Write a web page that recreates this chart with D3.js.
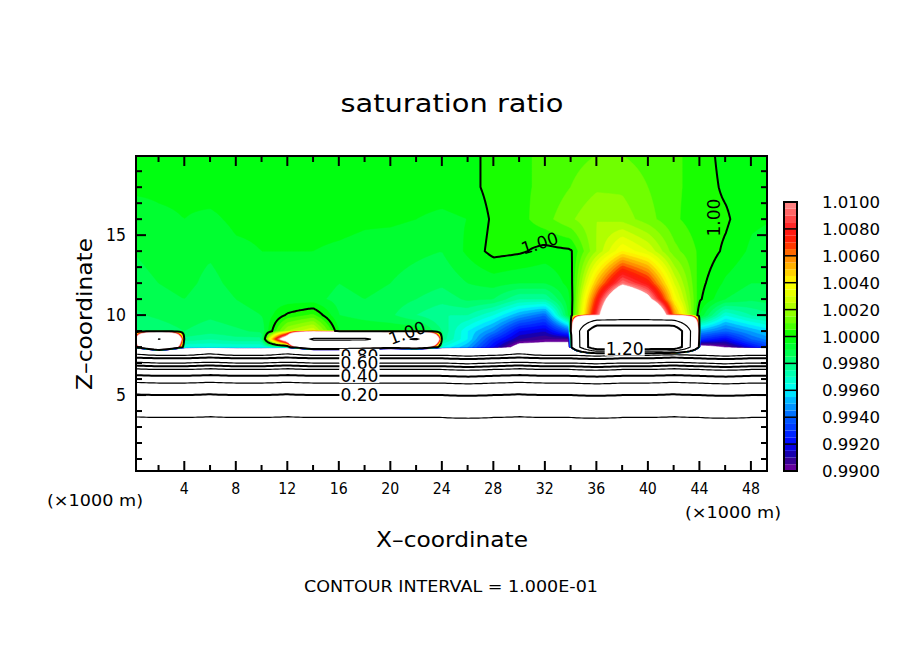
<!DOCTYPE html>
<html><head><meta charset="utf-8">
<script src="https://cdn.jsdelivr.net/npm/d3@7"></script>
<style>body{margin:0;background:#fff}text{font-family:"DejaVu Sans",sans-serif}</style>
</head><body><svg id="c" width="904" height="654"></svg>
<script>
// ---- DATA ----
const xCols = [0,2,4,6,8,10,12,14,16,18,20,22,24,26,28,30,32,34,36,38,40,42,44,46,48,50];
// upper field rows (z in km), values = (ratio-1)*1e4
const upperZ = [20,18,16,14,12,11,10,9,8.5,8];
const upperDev = [
 [-3,-3,-3,-3,-3,-3,-3,-3,-3,-3,-3,-3,-3,-2,2,4,6,8,10,10,8,6,3,-2,-3,-3],
 [-4,-4,-4,-3,-3,-3,-3,-3,-3,-3,-3,-3,-3,-2,2,4,6,10,14,14,10,6,3,-1,-3,-3],
 [-8,-6,-5,-6,-4,-4,-3,-3,-3,-4,-4,-5,-6,-5,1,3,8,14,20,18,12,6,2,1,-4,-5],
 [-10,-8,-7,-9,-6,-5,-5,-5,-6,-7,-8,-9,-10,-4,2,1,-2,-1,20,40,30,12,4,-1,-6,-8],
 [-12,-10,-8,-12,-8,-6,-6,-6,-10,-8,-10,-12,-14,-10,-8,-10,-10,-3,50,95,75,30,2,-6,-10,-10],
 [-14,-12,-10,-14,-10,-8,-8,-8,-12,-10,-12,-15,-18,-14,-15,-25,-25,-5,70,150,110,40,1,-10,-14,-12],
 [-16,-14,-12,-14,-12,-10,1,6,-10,-12,-14,-20,-25,-25,-35,-50,-60,-5,85,200,200,60,-5,-35,-25,-20],
 [-20,-18,-15,-18,-16,-14,20,30,-5,-6,-6,-5,-20,-40,-55,-80,-85,-60,3000,3000,3000,3000,-50,-60,-50,-40],
 [-22,1050,-22,-25,-22,-22,150,1100,1100,1100,700,1100,-22,-40,-70,-90,-95,-95,3000,3000,3000,3000,-70,-80,-60,-50],
 [-35,500,-35,-35,-35,-35,-30,300,300,200,100,200,-35,-50,-80,-110,-110,-110,3000,3000,3000,3000,-110,-100,-80,-60]
];
// lower layered profile (z km -> ratio)
const lowZ = [7.5,7.3,7.0,6.8,6.6,6.2,5.75,5.0,3.6,2.0,0.0];
const lowVal = [0.91,0.8,0.7,0.6,0.5,0.4,0.3,0.2,0.1,0.06,0.03];
const lowShift = [0.05,0,0,0.05,0,0,0.05,0,0,0,0,0,0,-0.05,0,0.05,0,0,-0.05,0,0,0.05,0,-0.05,0,0];
const lineLevels = [0.1,0.2,0.3,0.4,0.5,0.6,0.7,0.8,0.9,1.0,1.1,1.2];
const cbTicks = ["0.9900","0.9920","0.9940","0.9960","0.9980","1.0000","1.0020","1.0040","1.0060","1.0080","1.0100"];
const labels = [
 {t:"1.00",x:31.6,z:14.5,r:-18},{t:"1.00",x:45.1,z:16.1,r:-90},{t:"1.20",x:38.2,z:7.9,r:0},
 {t:"1.00",x:21.3,z:8.9,r:-20},{t:"0.80",x:17.6,z:7.45,r:0},{t:"0.60",x:17.6,z:7.0,r:0},
 {t:"0.40",x:17.6,z:6.2,r:0},{t:"0.20",x:17.6,z:5.0,r:0}
];
// ---- LAYOUT ----
const svg=d3.select("#c");
const L=136,R=767,T=156,B=471;
const xs=d3.scaleLinear([0.25,49.25],[L,R]);
const zs=d3.scaleLinear([0.25,19.95],[B,T]);
const stops=[[0.990,"#7a00a0"],[0.991,"#200090"],[0.992,"#0000ff"],[0.994,"#0060ff"],[0.9955,"#00c8ff"],[0.996,"#00ffff"],[0.997,"#00ffc0"],[0.998,"#00ff80"],[0.999,"#00ff40"],[1.000,"#00ff00"],[1.001,"#60ff00"],[1.002,"#a0ff00"],[1.003,"#e0ff00"],[1.004,"#ffff00"],[1.005,"#ffc000"],[1.006,"#ff8000"],[1.007,"#ff2000"],[1.008,"#ff1818"],[1.009,"#ff5858"],[1.010,"#ff9090"]];
const col=d3.scaleLinear(stops.map(s=>s[0]),stops.map(s=>s[1])).interpolate(d3.interpolateRgb).clamp(true);
function interp1(arr,vals,v){
  if(v<=arr[0])return vals[0]; if(v>=arr[arr.length-1])return vals[vals.length-1];
  let i=d3.bisectRight(arr,v)-1; const t=(v-arr[i])/(arr[i+1]-arr[i]); return vals[i]*(1-t)+vals[i+1]*t;}
const lowAscZ=lowZ.slice().reverse(), lowAscV=lowVal.slice().reverse();
const upAscZ=upperZ.slice().reverse(), upAscRows=upperDev.slice().reverse();
function colVal(c,z){
  if(z<=7.5)return interp1(lowAscZ,lowAscV,z-lowShift[c]);
  const vv=upAscRows.map(r=>1+r[c]/1e4);
  if(z<8){const t=(z-7.5)/0.5; return interp1(lowAscZ,lowAscV,7.5-lowShift[c])*(1-t)+vv[0]*t;}
  return interp1(upAscZ,vv,z);
}
function sample(x,z){
  const ci=Math.min(xCols.length-2,Math.max(0,Math.floor(x/2)));
  const tx=Math.max(0,Math.min(1,(x-xCols[ci])/2));
  return colVal(ci,z)*(1-tx)+colVal(ci+1,z)*tx;
}
const dx=0.2,dz=0.05,x0=0.25,z1=19.95;
const nx=Math.round((49.25-x0)/dx)+1, nz=Math.round((z1-0.25)/dz)+1;
const grid=new Float64Array(nx*nz);
for(let j=0;j<nz;j++)for(let i=0;i<nx;i++)grid[j*nx+i]=sample(x0+i*dx,z1-j*dz);
const sx=(xs(x0+dx)-xs(x0)), sy=(zs(z1-dz)-zs(z1));
const proj=d3.geoTransform({point:function(px,py){this.stream.point(xs(x0)+(px-0.5)*sx, zs(z1)+(py-0.5)*sy);}});
const path=d3.geoPath(proj);
svg.append("clipPath").attr("id","cp").append("rect").attr("x",L).attr("y",T).attr("width",R-L).attr("height",B-T);
const g=svg.append("g").attr("clip-path","url(#cp)");
g.append("rect").attr("x",L).attr("y",T).attr("width",R-L).attr("height",B-T).attr("fill","#fff");
const fillTh=d3.range(0,41).map(k=>0.99+k*0.0005);
d3.contours().size([nx,nz]).thresholds(fillTh)(grid).forEach(c=>{
  const t=c.value; const f=t>=1.00999?"#fff":col(t+0.00025);
  g.append("path").attr("d",path(c)).attr("fill",f).attr("stroke",f).attr("stroke-width",0.5);
});
d3.contours().size([nx,nz]).thresholds(lineLevels)(grid).forEach(c=>{
  const thick=Math.round(c.value*10)%2===0;
  g.append("path").attr("d",path(c)).attr("fill","none").attr("stroke","#000").attr("stroke-width",thick?2:1.2);
});
labels.forEach(l=>{
  const gg=g.append("g").attr("transform",`translate(${xs(l.x)},${zs(l.z)}) rotate(${l.r})`);
  const low=["0.80","0.60","0.40","0.20","1.20"].includes(l.t);
  if(low)gg.append("rect").attr("x",-20).attr("y",-7).attr("width",40).attr("height",14).attr("fill","#fff");
  gg.append("text").attr("text-anchor","middle").attr("dy","0.36em").attr("font-size",17).attr("textLength",38).attr("lengthAdjust","spacingAndGlyphs").text(l.t);
});
svg.append("rect").attr("x",L).attr("y",T).attr("width",R-L).attr("height",B-T).attr("fill","none").attr("stroke","#000").attr("stroke-width",2);
const tk=svg.append("g").attr("stroke","#000").attr("stroke-width",2);
for(let x=2;x<=48;x+=2){const len=x%4===0?10:6;const p=xs(x);
  tk.append("line").attr("x1",p).attr("x2",p).attr("y1",B).attr("y2",B-len);
  tk.append("line").attr("x1",p).attr("x2",p).attr("y1",T).attr("y2",T+len);}
for(let z=1;z<=19;z++){const len=z%5===0?10:6;const p=zs(z);
  tk.append("line").attr("y1",p).attr("y2",p).attr("x1",L).attr("x2",L+len);
  tk.append("line").attr("y1",p).attr("y2",p).attr("x1",R).attr("x2",R-len);}
function txt(x,y,s,size,len,anchor){const t=svg.append("text").attr("x",x).attr("y",y).attr("text-anchor",anchor||"middle").attr("font-size",size).text(s);
  if(len)t.attr("textLength",len).attr("lengthAdjust","spacingAndGlyphs");return t;}
for(let x=4;x<=48;x+=4)txt(xs(x),B+23,x,15,x<10?9:18);
for(let z=5;z<=15;z+=5)txt(L-10,zs(z)+6,z,17,z<10?10:20,"end");
txt(95,506,"(×1000 m)",15,96);
txt(733,518,"(×1000 m)",15,96);
txt(452,547,"X–coordinate",21,152);
svg.append("text").attr("transform","translate(92,314) rotate(-90)").attr("text-anchor","middle").attr("font-size",21).attr("textLength",152).attr("lengthAdjust","spacingAndGlyphs").text("Z–coordinate");
txt(452,112,"saturation ratio",25,223);
txt(451,592,"CONTOUR INTERVAL = 1.000E-01",15,294);
const cb=d3.scaleLinear([0.99,1.01],[471,202]);
const cx=784,cw=13;
d3.range(0,40).forEach(k=>{const a=0.99+k*0.0005;
  svg.append("rect").attr("x",cx).attr("y",cb(a+0.0005)).attr("width",cw).attr("height",cb(a)-cb(a+0.0005)).attr("fill",col(a+0.00025));});
cbTicks.forEach(t=>{const y=cb(+t);
  svg.append("line").attr("x1",cx).attr("x2",cx+cw).attr("y1",y).attr("y2",y).attr("stroke","#000").attr("stroke-width",1.5);
  txt(822,y+6,t,16,58,"start");});
svg.append("rect").attr("x",cx).attr("y",202).attr("width",cw).attr("height",269).attr("fill","none").attr("stroke","#000").attr("stroke-width",2);
</script></body></html>
